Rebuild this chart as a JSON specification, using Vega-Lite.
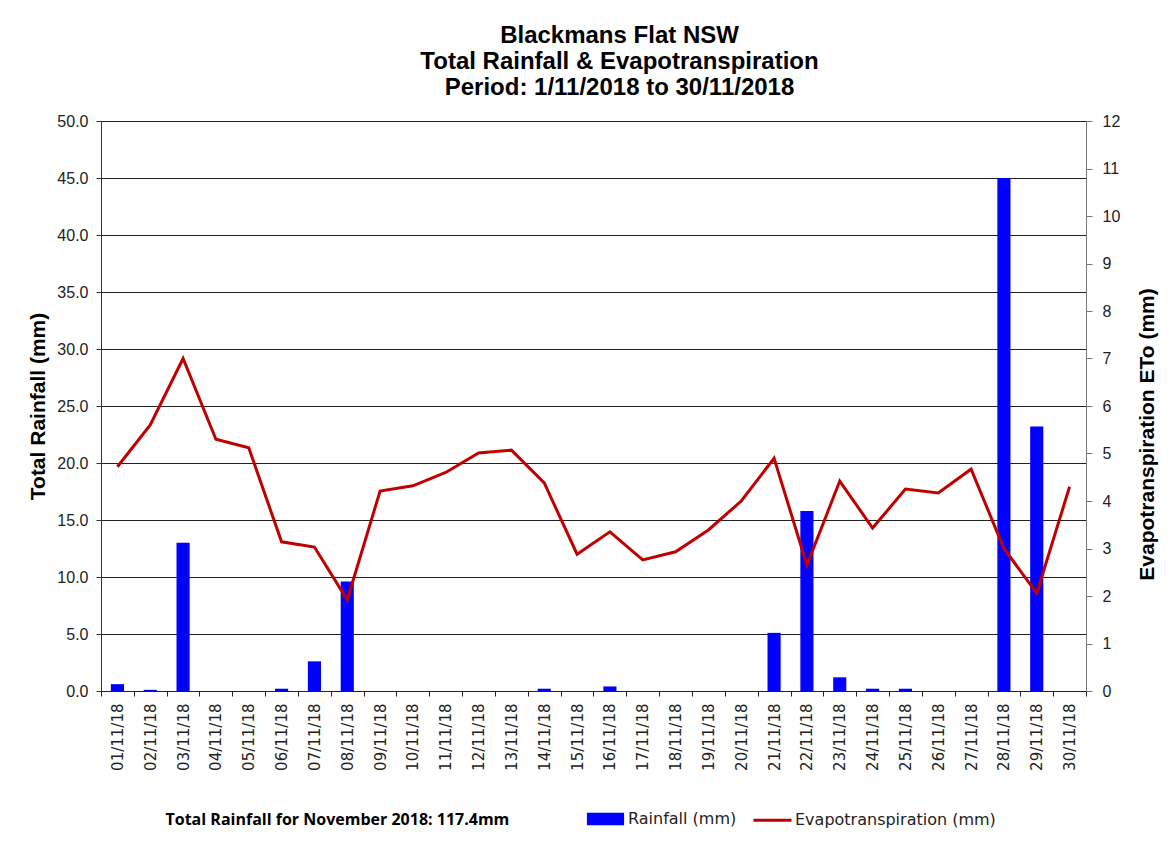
{
  "$schema": "https://vega.github.io/schema/vega-lite/v6.json",
  "width": 985,
  "height": 570,
  "autosize": {"type": "none"},
  "padding": {"left": 101, "top": 121, "right": 88, "bottom": 155},
  "background": "white",
  "title": {
    "text": ["Blackmans Flat NSW", "Total Rainfall & Evapotranspiration", "Period: 1/11/2018 to 30/11/2018"],
    "anchor": "middle",
    "dx": 26,
    "offset": 13,
    "font": "Liberation Sans",
    "fontSize": 24,
    "fontWeight": "bold",
    "lineHeight": 26,
    "color": "#000"
  },
  "data": {
    "values": [
      {"day": "01/11/18", "rain": 0.6, "et": 4.72},
      {"day": "02/11/18", "rain": 0.1, "et": 5.6},
      {"day": "03/11/18", "rain": 13.0, "et": 7.0},
      {"day": "04/11/18", "rain": 0, "et": 5.3},
      {"day": "05/11/18", "rain": 0, "et": 5.12},
      {"day": "06/11/18", "rain": 0.2, "et": 3.14},
      {"day": "07/11/18", "rain": 2.6, "et": 3.03},
      {"day": "08/11/18", "rain": 9.6, "et": 1.92},
      {"day": "09/11/18", "rain": 0, "et": 4.21},
      {"day": "10/11/18", "rain": 0, "et": 4.32},
      {"day": "11/11/18", "rain": 0, "et": 4.6},
      {"day": "12/11/18", "rain": 0, "et": 5.01},
      {"day": "13/11/18", "rain": 0, "et": 5.07},
      {"day": "14/11/18", "rain": 0.2, "et": 4.38},
      {"day": "15/11/18", "rain": 0, "et": 2.88},
      {"day": "16/11/18", "rain": 0.4, "et": 3.35},
      {"day": "17/11/18", "rain": 0, "et": 2.76},
      {"day": "18/11/18", "rain": 0, "et": 2.93},
      {"day": "19/11/18", "rain": 0, "et": 3.39},
      {"day": "20/11/18", "rain": 0, "et": 4.0},
      {"day": "21/11/18", "rain": 5.1, "et": 4.9},
      {"day": "22/11/18", "rain": 15.8, "et": 2.65},
      {"day": "23/11/18", "rain": 1.2, "et": 4.42},
      {"day": "24/11/18", "rain": 0.2, "et": 3.43},
      {"day": "25/11/18", "rain": 0.2, "et": 4.25},
      {"day": "26/11/18", "rain": 0, "et": 4.17},
      {"day": "27/11/18", "rain": 0, "et": 4.67},
      {"day": "28/11/18", "rain": 45.0, "et": 3.0},
      {"day": "29/11/18", "rain": 23.2, "et": 2.06},
      {"day": "30/11/18", "rain": 0, "et": 4.3}
    ]
  },
  "encoding": {
    "x": {
      "field": "day",
      "type": "ordinal",
      "sort": null,
      "scale": {"paddingInner": 0, "paddingOuter": 0},
      "axis": {
        "title": "Total Rainfall for November 2018: 117.4mm",
        "titleFont": "Open Sans",
        "titleFontSize": 16,
        "titleFontWeight": "bold",
        "titleColor": "#000",
        "titleX": 64,
        "titleY": 128,
        "titleAlign": "left",
        "titleAnchor": null,
        "titleBaseline": "middle",
        "labelAngle": -90,
        "labelAlign": "right",
        "labelBaseline": "middle",
        "labelFont": "DejaVu Sans",
        "labelFontSize": 15,
        "labelColor": "#222",
        "labelPadding": 7,
        "tickBand": "extent",
        "tickSize": 5,
        "tickColor": "#222",
        "domainColor": "#222",
        "grid": false
      }
    }
  },
  "layer": [
    {
      "mark": {"type": "bar", "width": {"band": 0.4}},
      "encoding": {
        "y": {
          "field": "rain",
          "type": "quantitative",
          "scale": {"domain": [0, 50], "nice": false},
          "axis": {
            "title": "Total Rainfall (mm)",
            "titleFont": "Liberation Sans",
            "titleFontSize": 21,
            "titleFontWeight": "bold",
            "titleColor": "#000",
            "titlePadding": 8,
            "values": [0, 5, 10, 15, 20, 25, 30, 35, 40, 45, 50],
            "format": ".1f",
            "labelFont": "Liberation Sans",
            "labelFontSize": 16,
            "labelColor": "#222",
            "labelPadding": 8,
            "tickSize": 5,
            "tickColor": "#333",
            "domainColor": "#333",
            "grid": true,
            "gridColor": "#222",
            "gridWidth": 1,
            "gridOpacity": 1
          }
        },
        "color": {
          "datum": "Rainfall (mm)",
          "scale": {"domain": ["Rainfall (mm)", "Evapotranspiration (mm)"], "range": ["#0000ff", "#c00000"]},
          "legend": {
            "title": null,
            "orient": "none",
            "legendX": 484,
            "legendY": 677,
            "direction": "horizontal",
            "labelFont": "DejaVu Sans",
            "labelFontSize": 16,
            "labelColor": "#222",
            "labelOffset": 2,
            "labelLimit": 400,
            "columnPadding": 10,
            "symbolSize": 1444,
            "encode": {
              "symbols": {
                "update": {
                  "shape": {"signal": "datum.value === 'Rainfall (mm)' ? 'M-0.9,-0.25H0.9V0.25H-0.9Z' : 'M-1,0H1'"},
                  "fill": {"signal": "datum.value === 'Rainfall (mm)' ? '#0000ff' : 'transparent'"},
                  "stroke": {"signal": "datum.value === 'Rainfall (mm)' ? 'transparent' : '#c00000'"},
                  "strokeWidth": {"value": 3},
                  "opacity": {"value": 1},
                  "fillOpacity": {"value": 1},
                  "strokeOpacity": {"value": 1}
                }
              }
            }
          }
        }
      }
    },
    {
      "mark": {"type": "line", "strokeWidth": 3},
      "encoding": {
        "y": {
          "field": "et",
          "type": "quantitative",
          "scale": {"domain": [0, 12], "nice": false},
          "axis": {
            "orient": "right",
            "title": "Evapotranspiration ETo (mm)",
            "titleAngle": -90,
            "titleFont": "Liberation Sans",
            "titleFontSize": 21,
            "titleFontWeight": "bold",
            "titleColor": "#000",
            "titlePadding": 38,
            "titleY": 313,
            "values": [0, 1, 2, 3, 4, 5, 6, 7, 8, 9, 10, 11, 12],
            "format": "d",
            "labelFont": "Liberation Sans",
            "labelFontSize": 16,
            "labelColor": "#222",
            "labelPadding": 10,
            "tickSize": 6,
            "tickColor": "#777",
            "domainColor": "#777",
            "grid": false
          }
        },
        "color": {"datum": "Evapotranspiration (mm)"}
      }
    }
  ],
  "resolve": {"scale": {"y": "independent"}},
  "config": {
    "view": {"stroke": "#222", "strokeWidth": 1},
    "axis": {"domainWidth": 1, "tickWidth": 1}
  }
}
